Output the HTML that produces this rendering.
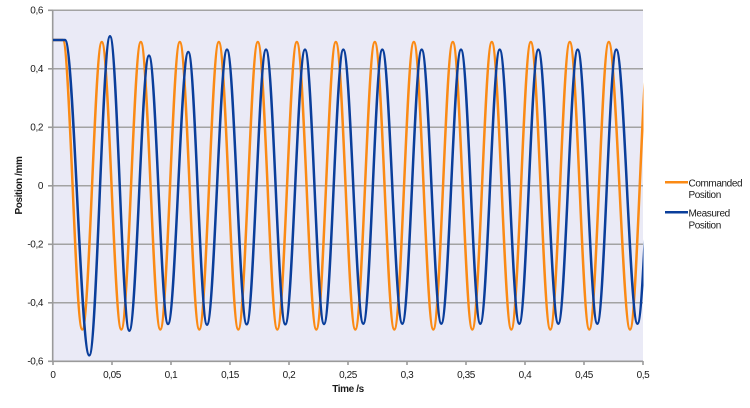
<!DOCTYPE html>
<html><head><meta charset="utf-8"><style>
html,body{margin:0;padding:0;background:#fff;}
svg{display:block;}
text{font-family:"Liberation Sans",sans-serif;fill:#1a1a1a;letter-spacing:-0.4px;}
.t{font-size:10px;}
.b{font-size:10px;font-weight:bold;}
</style></head><body>
<svg width="750" height="408" viewBox="0 0 750 408" xmlns="http://www.w3.org/2000/svg">
<defs><clipPath id="c"><rect x="53" y="0" width="590.5" height="408"/></clipPath></defs>
<rect x="53" y="10.3" width="590" height="351" fill="#eaeaf6"/>
<g stroke="#a3a3a3" stroke-width="1.5">
<line x1="53" y1="10.3" x2="643" y2="10.3"/>
<line x1="53" y1="68.8" x2="643" y2="68.8"/>
<line x1="53" y1="127.3" x2="643" y2="127.3"/>
<line x1="53" y1="185.8" x2="643" y2="185.8"/>
<line x1="53" y1="244.3" x2="643" y2="244.3"/>
<line x1="53" y1="302.8" x2="643" y2="302.8"/>
</g>
<g stroke="#9a9a9a" stroke-width="1.6">
<line x1="52.7" y1="10.3" x2="52.7" y2="361.3"/>
<line x1="52" y1="361.3" x2="643" y2="361.3"/>
<line x1="48" y1="10.3" x2="53" y2="10.3"/>
<line x1="48" y1="68.8" x2="53" y2="68.8"/>
<line x1="48" y1="127.3" x2="53" y2="127.3"/>
<line x1="48" y1="185.8" x2="53" y2="185.8"/>
<line x1="48" y1="244.3" x2="53" y2="244.3"/>
<line x1="48" y1="302.8" x2="53" y2="302.8"/>
<line x1="48" y1="361.3" x2="53" y2="361.3"/>
<line x1="53" y1="361" x2="53" y2="365"/>
<line x1="112" y1="361" x2="112" y2="365"/>
<line x1="171" y1="361" x2="171" y2="365"/>
<line x1="230" y1="361" x2="230" y2="365"/>
<line x1="289" y1="361" x2="289" y2="365"/>
<line x1="348" y1="361" x2="348" y2="365"/>
<line x1="407" y1="361" x2="407" y2="365"/>
<line x1="466" y1="361" x2="466" y2="365"/>
<line x1="525" y1="361" x2="525" y2="365"/>
<line x1="584" y1="361" x2="584" y2="365"/>
<line x1="643" y1="361" x2="643" y2="365"/>
</g>
<g clip-path="url(#c)" fill="none" stroke-width="2.5" stroke-linejoin="round">
<path stroke="#fb8a14" d="M53,40 L62.8,40 C69.9,40 75.2,329.5 82.3,329.5 S94.7,42 101.8,42 S114.2,329.5 121.3,329.5 S133.7,42 140.8,42 S153.2,329.5 160.3,329.5 S172.7,42 179.8,42 S192.2,329.5 199.3,329.5 S211.7,42 218.8,42 S231.2,329.5 238.3,329.5 S250.7,42 257.8,42 S270.2,329.5 277.3,329.5 S289.7,42 296.8,42 S309.2,329.5 316.3,329.5 S328.7,42 335.8,42 S348.2,329.5 355.3,329.5 S367.7,42 374.8,42 S387.2,329.5 394.3,329.5 S406.7,42 413.8,42 S426.2,329.5 433.3,329.5 S445.7,42 452.8,42 S465.2,329.5 472.3,329.5 S484.7,42 491.8,42 S504.2,329.5 511.3,329.5 S523.7,42 530.8,42 S543.2,329.5 550.3,329.5 S562.7,42 569.8,42 S582.2,329.5 589.3,329.5 S601.7,42 608.8,42 S622.9,329.5 630,329.5 S642.4,42 649.5,42"/>
<path stroke="#0a3e9b" d="M53,40 L65,40 C73.85,40 80.45,355.4 89.3,355.4 C96.83,355.4 102.47,36.3 110,36.3 C117.03,36.3 122.27,330.7 129.3,330.7 C136.47,330.7 141.83,55.6 149,55.6 C155.92,55.6 161.08,324 168,324 C175.39,324 180.91,52 188.3,52 C195.11,52 200.19,324.7 207,324.7 C214.28,324.7 219.72,49.6 227,49.6 C234.17,49.6 239.53,324.3 246.7,324.3 C253.73,324.3 258.97,49.6 266,49.6 C273.03,49.6 278.27,324.3 285.3,324.3 C292.47,324.3 297.83,49.6 305,49.6 C311.92,49.6 317.08,324 324,324 C331.03,324 336.27,49.6 343.3,49.6 C350.58,49.6 356.02,323.7 363.3,323.7 C370.22,323.7 375.38,49.6 382.3,49.6 C389.58,49.6 395.02,323.7 402.3,323.7 C409.36,323.7 414.64,49.6 421.7,49.6 C428.83,49.6 434.17,323.7 441.3,323.7 C448.47,323.7 453.83,49.6 461,49.6 C468.03,49.6 473.27,323.7 480.3,323.7 C487.36,323.7 492.64,49.6 499.7,49.6 C506.83,49.6 512.17,323.7 519.3,323.7 C526.22,323.7 531.38,49.6 538.3,49.6 C545.58,49.6 551.02,323.7 558.3,323.7 C565.36,323.7 570.64,49.6 577.7,49.6 C584.83,49.6 590.17,323.7 597.3,323.7 C604.22,323.7 609.38,49.6 616.3,49.6 C623.95,49.6 629.85,323.7 637.5,323.7 C644.6,323.7 649.9,49.6 657,49.6"/>
</g>
<g text-anchor="end">
<text class="t" x="43" y="13.6">0,6</text>
<text class="t" x="43" y="72.1">0,4</text>
<text class="t" x="43" y="130.6">0,2</text>
<text class="t" x="43" y="189.1">0</text>
<text class="t" x="43" y="247.6">-0,2</text>
<text class="t" x="43" y="306.1">-0,4</text>
<text class="t" x="43" y="364.6">-0,6</text>
</g>
<g text-anchor="middle">
<text class="t" x="53" y="378">0</text>
<text class="t" x="112" y="378">0,05</text>
<text class="t" x="171" y="378">0,1</text>
<text class="t" x="230" y="378">0,15</text>
<text class="t" x="289" y="378">0,2</text>
<text class="t" x="348" y="378">0,25</text>
<text class="t" x="407" y="378">0,3</text>
<text class="t" x="466" y="378">0,35</text>
<text class="t" x="525" y="378">0,4</text>
<text class="t" x="584" y="378">0,45</text>
<text class="t" x="643" y="378">0,5</text>
<text class="b" x="348" y="392">Time /s</text>
<text class="b" x="0" y="0" transform="translate(22,185.5) rotate(-90)">Position /mm</text>
</g>
<line x1="665" y1="182.3" x2="688" y2="182.3" stroke="#fb8a14" stroke-width="2.5"/>
<line x1="665" y1="212.3" x2="688" y2="212.3" stroke="#0a3e9b" stroke-width="2.5"/>
<text class="t" x="688.5" y="186.5">Commanded</text>
<text class="t" x="688.5" y="198">Position</text>
<text class="t" x="688.5" y="216.5">Measured</text>
<text class="t" x="688.5" y="228.5">Position</text>
</svg>
</body></html>
